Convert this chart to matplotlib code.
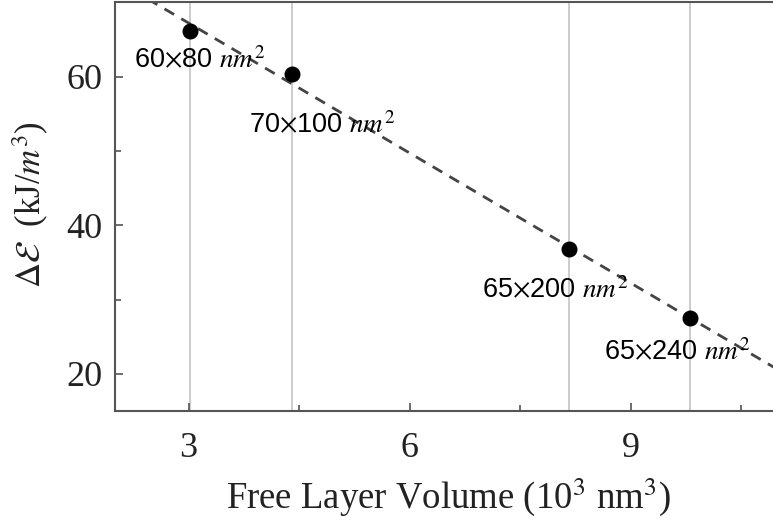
import numpy as np
import matplotlib
matplotlib.use("Agg")
import matplotlib.pyplot as plt

# Data
volumes = [3.016, 4.398, 8.168, 9.802]          # 10^3 nm^3
delta_e = [66.2, 60.4, 36.8, 27.5]              # kJ/m^3
labels = [r"60$\times$80 $nm^2$", r"70$\times$100 $nm^2$",
          r"65$\times$200 $nm^2$", r"65$\times$240 $nm^2$"]
label_offsets_px = [(-56, -37), (-43, -59), (-87, -49), (-86, -42)]
xticks = [3, 6, 9]
yticks = [20, 40, 60]

plt.rcParams["mathtext.fontset"] = "stix"

fig = plt.figure(figsize=(7.73, 5.27), dpi=100)
ax = fig.add_axes([115/773, 1-411/527, (773-115)/773, (411-2)/527])

ax.set_xlim(2.0, 10.93)
ax.set_ylim(15, 70.1)

# vertical grid lines at data x positions
for xv in volumes:
    ax.axvline(xv, color="#c8c8c8", lw=1.3, zorder=0)

# linear fit dashed
coef = np.polyfit(volumes, delta_e, 1)
xx = np.array([1.5, 11.5])
ax.plot(xx, np.polyval(coef, xx), ls=(0, (4, 3)), color="#444444", lw=2.0, zorder=2)

ax.plot(volumes, delta_e, "o", color="black", ms=10.5, zorder=3)

for xv, yv, lab, off in zip(volumes, delta_e, labels, label_offsets_px):
    ax.annotate(lab, (xv, yv), xytext=off, textcoords="offset pixels",
                ha="left", va="baseline", fontsize=19.5, family="Liberation Sans",
                zorder=4)

ax.set_xticks(xticks)
ax.set_yticks(yticks)
ax.set_xticks([4.5, 7.5, 10.5], minor=True)
ax.set_yticks([30, 50], minor=True)
ax.tick_params(which="both", direction="in", color="#555555", width=1.2,
               top=False, right=False)
ax.tick_params(which="major", length=6, labelsize=26)
ax.tick_params(axis="x", which="major", pad=15)
ax.tick_params(axis="y", which="major", pad=9)
ax.tick_params(which="minor", length=4)
for t in ax.get_xticklabels() + ax.get_yticklabels():
    t.set_family("Liberation Serif")
    t.set_color("#222222")

for s in ["left", "bottom", "top"]:
    ax.spines[s].set_color("#555555")
    ax.spines[s].set_linewidth(1.5)
ax.spines["right"].set_visible(False)

ax.set_xlabel(r"Free Layer Volume (10$^3$ nm$^3$)", family="Liberation Serif",
              fontsize=26.5, color="#222222")
ax.xaxis.set_label_coords(0.506, -0.16)
ax.set_ylabel(r"$\Delta\mathcal{E}$  (kJ/$m^3$)", family="Liberation Serif",
              fontsize=25, color="#222222")
ax.yaxis.set_label_coords(-0.098, 0.504)

fig.savefig("out.png", dpi=100)
